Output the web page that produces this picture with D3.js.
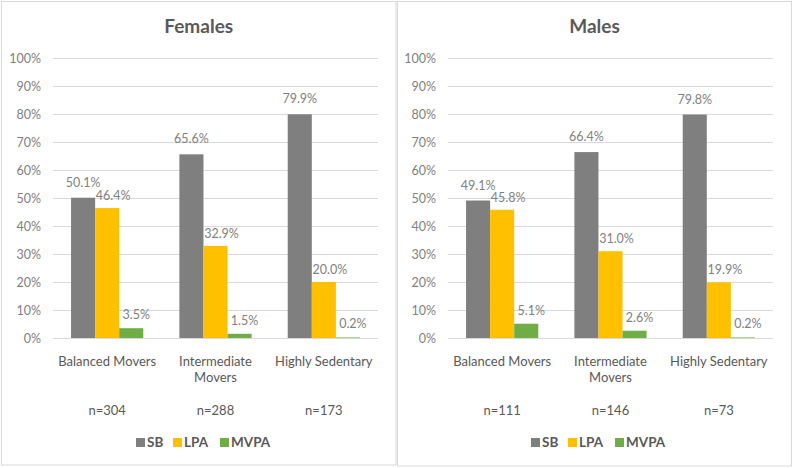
<!DOCTYPE html>
<html>
<head>
<meta charset="utf-8">
<script src="https://cdn.jsdelivr.net/npm/d3@7"></script>
<style>
  body { margin: 0; background: #fff; }
  svg { font-family: Lato, "Open Sans", sans-serif; }
</style>
</head>
<body>
<div id="container"></div>
<script>
let w = 794;
let h = 468;

// data
let categories = ["Balanced Movers", "Intermediate Movers", "Highly Sedentary"];
let seriesNames = ["SB", "LPA", "MVPA"];
let yTicks = [0, 10, 20, 30, 40, 50, 60, 70, 80, 90, 100];

let femalesSB = [50.1, 65.6, 79.9];
let femalesLPA = [46.4, 32.9, 20.0];
let femalesMVPA = [3.5, 1.5, 0.2];
let femalesN = [304, 288, 173];

let malesSB = [49.1, 66.4, 79.8];
let malesLPA = [45.8, 31.0, 19.9];
let malesMVPA = [5.1, 2.6, 0.2];
let malesN = [111, 146, 73];

let colors = {SB: "#7f7f7f", LPA: "#ffc000", MVPA: "#70ad47"};
// small manual nudges of the data labels (as in the original)
let labelShift = {SB: [0, -11], LPA: [6, -8], MVPA: [5, -9]};

let viz = d3.select("#container")
  .append("svg")
    .attr("width", w)
    .attr("height", h)
    .style("background-color", "white");

let panels = [
  {title: "Females", x0: 0, n: femalesN, values: [femalesSB, femalesLPA, femalesMVPA], box: [1.5, 1.5, 394.5, 463.5]},
  {title: "Males", x0: 395, n: malesN, values: [malesSB, malesLPA, malesMVPA], box: [397.5, 1.5, 394, 464.5]}
];

let y = d3.scaleLinear().domain([0, 100]).range([338, 58]);

panels.forEach(function(p) {
  let g = viz.append("g").attr("transform", "translate(" + p.x0 + ",0)");

  viz.append("rect")
    .attr("x", p.box[0]).attr("y", p.box[1])
    .attr("width", p.box[2]).attr("height", p.box[3])
    .attr("fill", "none")
    .attr("stroke", "#d9d9d9")
    .attr("stroke-width", 1);

  let x = d3.scaleBand().domain(categories).range([53, 378]);
  let xSub = d3.scaleBand().domain(seriesNames).range([0, x.bandwidth()]).paddingOuter(0.75);

  // title
  g.append("text")
    .attr("x", (p.box[0] - p.x0) + p.box[2] / 2)
    .attr("y", 33)
    .attr("text-anchor", "middle")
    .attr("font-size", 19)
    .attr("font-weight", "bold")
    .attr("fill", "#595959")
    .text(p.title);

  // gridlines + y axis
  let yAxis = d3.axisLeft(y).tickValues(yTicks).tickSize(-(378 - 53)).tickFormat(d => d + "%");
  let ya = g.append("g").attr("transform", "translate(53,0)").call(yAxis);
  ya.select(".domain").remove();
  ya.selectAll(".tick line").attr("stroke", "#d9d9d9");
  ya.selectAll(".tick text")
    .attr("x", -12)
    .attr("fill", "#7f7f7f")
    .attr("font-size", 12.5)
    .attr("font-family", "Lato, sans-serif");

  // bars
  let rows = [];
  categories.forEach(function(c, i) {
    seriesNames.forEach(function(s, j) {
      rows.push({cat: c, series: s, value: p.values[j][i]});
    });
  });

  g.selectAll("rect.bar")
    .data(rows)
    .enter()
    .append("rect")
      .attr("class", "bar")
      .attr("x", d => x(d.cat) + xSub(d.series))
      .attr("width", xSub.bandwidth())
      .attr("y", d => y(d.value))
      .attr("height", d => y(0) - y(d.value))
      .attr("fill", d => colors[d.series]);

  g.selectAll("text.val")
    .data(rows)
    .enter()
    .append("text")
      .attr("class", "val")
      .attr("x", d => x(d.cat) + xSub(d.series) + xSub.bandwidth() / 2 + labelShift[d.series][0])
      .attr("y", d => y(d.value) + labelShift[d.series][1])
      .attr("text-anchor", "middle")
      .attr("font-size", 12.5)
      .attr("fill", "#7f7f7f")
      .text(d => d.value.toFixed(1) + "%");

  // category labels (wrapped like the original)
  categories.forEach(function(c, i) {
    let lines = c === "Intermediate Movers" ? ["Intermediate", "Movers"] : [c];
    let t = g.append("text")
      .attr("x", x(c) + x.bandwidth() / 2)
      .attr("y", 366)
      .attr("text-anchor", "middle")
      .attr("font-size", 13)
      .attr("fill", "#595959");
    lines.forEach(function(l, k) {
      t.append("tspan").attr("x", x(c) + x.bandwidth() / 2).attr("dy", k == 0 ? 0 : 16).text(l);
    });

    g.append("text")
      .attr("x", x(c) + x.bandwidth() / 2)
      .attr("y", 415)
      .attr("text-anchor", "middle")
      .attr("font-size", 13)
      .attr("fill", "#595959")
      .text("n=" + p.n[i]);
  });

  // legend
  let legendX = [136, 173, 220];
  seriesNames.forEach(function(s, j) {
    g.append("rect")
      .attr("x", legendX[j]).attr("y", 438)
      .attr("width", 9).attr("height", 9)
      .attr("fill", colors[s]);
    g.append("text")
      .attr("x", legendX[j] + 11)
      .attr("y", 447)
      .attr("font-size", 13.5)
      .attr("font-weight", "bold")
      .attr("fill", "#595959")
      .text(s);
  });
});
</script>
</body>
</html>
